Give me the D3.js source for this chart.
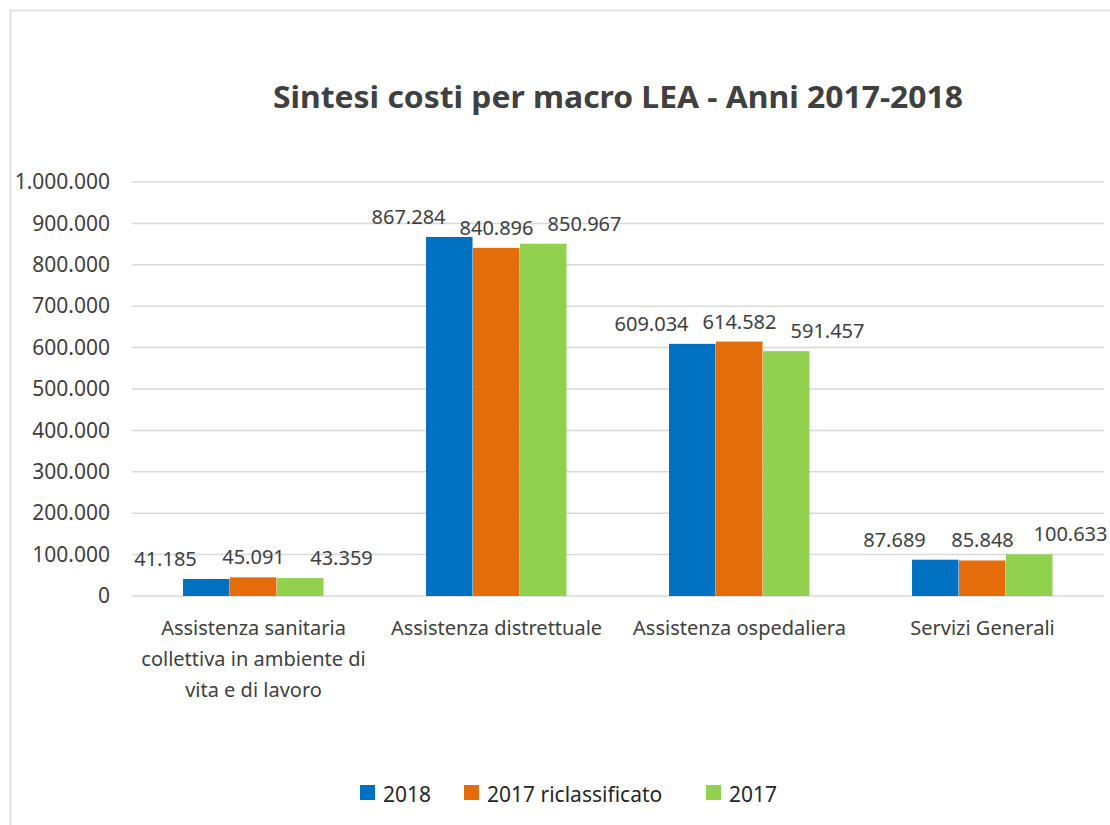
<!DOCTYPE html>
<html>
<head>
<meta charset="utf-8">
<script src="https://cdn.jsdelivr.net/npm/d3@7"></script>
<style>
  body { margin: 0; background: #fff; }
  text { font-family: "Noto Sans", "Open Sans", sans-serif; }
</style>
</head>
<body>
<script>
// chart data
var categories = [
  ["Assistenza sanitaria", "collettiva in ambiente di", "vita e di lavoro"],
  ["Assistenza distrettuale"],
  ["Assistenza ospedaliera"],
  ["Servizi Generali"]
];
var seriesNames = ["2018", "2017 riclassificato", "2017"];
var values2018 = [41185, 867284, 609034, 87689];
var values2017ricl = [45091, 840896, 614582, 85848];
var values2017 = [43359, 850967, 591457, 100633];
var yTicks = [0, 100000, 200000, 300000, 400000, 500000, 600000, 700000, 800000, 900000, 1000000];

var colors = ["#0070c0", "#e46c0a", "#92d050"];
// labels spread out from the group centre so they don't collide
var labelDx = [-88, 0, 88];

var svgWidth = 1110;
var svgHeight = 825;
var plotLeft = 132, plotRight = 1104, plotTop = 182, plotBottom = 596;

var it = d3.formatLocale({ decimal: ",", thousands: ".", grouping: [3], currency: ["", "€"] });
var fmt = it.format(",");

var svg = d3.select("body")
  .append("svg")
  .attr("width", svgWidth)
  .attr("height", svgHeight);

// outer frame
svg.append("rect")
  .attr("x", 10.5).attr("y", 10.5)
  .attr("width", 1140).attr("height", 840)
  .attr("fill", "none")
  .attr("stroke", "#d9d9d9")
  .attr("stroke-width", 1.5);

svg.append("text")
  .attr("x", 618)
  .attr("y", 108)
  .attr("text-anchor", "middle")
  .attr("font-size", "31px")
  .attr("font-weight", "bold")
  .attr("fill", "#404040")
  .attr("textLength", 690)
  .attr("lengthAdjust", "spacingAndGlyphs")
  .text("Sintesi costi per macro LEA - Anni 2017-2018");

var y = d3.scaleLinear().domain([0, 1000000]).range([plotBottom, plotTop]);

var x0 = d3.scaleBand()
  .domain(d3.range(categories.length))
  .range([plotLeft, plotRight])
  .paddingInner(0.42)
  .paddingOuter(0.21);

var x1 = d3.scaleBand()
  .domain(d3.range(seriesNames.length))
  .range([0, x0.bandwidth()]);

// gridlines
svg.append("g")
  .selectAll("line")
  .data(yTicks)
  .enter()
  .append("line")
  .attr("x1", plotLeft).attr("x2", plotRight)
  .attr("y1", d => y(d)).attr("y2", d => y(d))
  .attr("stroke", "#d9d9d9")
  .attr("stroke-width", 1.5);

var yAxis = svg.append("g")
  .attr("transform", "translate(" + (plotLeft - 22) + ",0)")
  .call(d3.axisLeft(y).tickValues(yTicks).tickSize(0).tickPadding(0).tickFormat(fmt));
yAxis.select(".domain").remove();
yAxis.selectAll("text")
  .attr("font-size", "21px")
  .attr("font-family", "Noto Sans")
  .attr("fill", "#404040");

var allSeries = [values2018, values2017ricl, values2017];

var groups = svg.append("g")
  .selectAll("g")
  .data(categories.map((c, i) => i))
  .enter()
  .append("g")
  .attr("transform", d => "translate(" + x0(d) + ",0)");

groups.selectAll("rect")
  .data(ci => allSeries.map((s, si) => ({ si: si, v: s[ci] })))
  .enter()
  .append("rect")
  .attr("x", d => x1(d.si))
  .attr("width", x1.bandwidth() - 0.5)
  .attr("y", d => y(d.v))
  .attr("height", d => y(0) - y(d.v))
  .attr("fill", d => colors[d.si]);

groups.selectAll("text.lbl")
  .data(ci => allSeries.map((s, si) => ({ si: si, v: s[ci] })))
  .enter()
  .append("text")
  .attr("class", "lbl")
  .attr("text-anchor", "middle")
  .attr("x", d => x0.bandwidth() / 2 + labelDx[d.si])
  .attr("y", d => y(d.v) - 13)
  .attr("font-size", "20px")
  .attr("fill", "#404040")
  .text(d => fmt(d.v));

// category labels
svg.append("g")
  .selectAll("text")
  .data(categories)
  .enter()
  .append("text")
  .attr("text-anchor", "middle")
  .attr("font-size", "20px")
  .attr("fill", "#404040")
  .attr("transform", (d, i) => "translate(" + (x0(i) + x0.bandwidth() / 2) + ",635)")
  .selectAll("tspan")
  .data(d => d)
  .enter()
  .append("tspan")
  .attr("x", 0)
  .attr("y", (d, i) => i * 31)
  .text(d => d);

// legend
var legendX = [360, 464, 706];
var legend = svg.append("g")
  .selectAll("g")
  .data(seriesNames)
  .enter()
  .append("g")
  .attr("transform", (d, i) => "translate(" + legendX[i] + ",785)");
legend.append("rect")
  .attr("width", 15).attr("height", 15)
  .attr("fill", (d, i) => colors[i]);
legend.append("text")
  .attr("x", 23).attr("y", 17)
  .attr("font-size", "21px")
  .attr("fill", "#262626")
  .text(d => d);
</script>
</body>
</html>
